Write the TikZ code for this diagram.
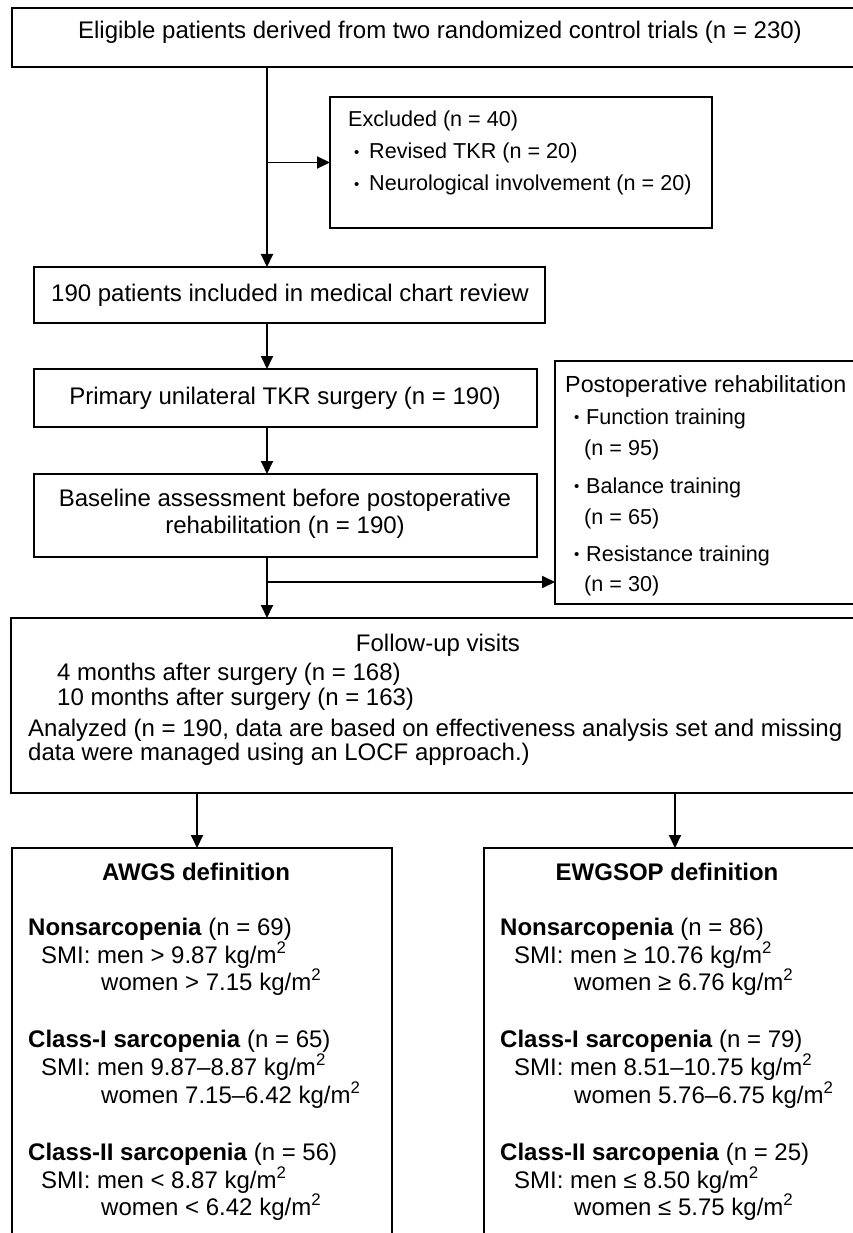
\documentclass[tikz,border=0pt]{standalone}
\usepackage{fontspec}
\setmainfont{Liberation Sans}
\usetikzlibrary{arrows.meta}
\newcommand\myfs{\fontsize{24}{28}\selectfont}
\newcommand\mysm{\fontsize{21.6}{26}\selectfont}
\newcommand\sq{kg/m\textsuperscript{2}}
\newcommand\bul[1]{\makebox[#1][l]{\raisebox{1.5pt}{\fontsize{15}{15}\selectfont•}}}
\begin{document}
\begin{tikzpicture}[x=1pt,y=-1pt,
  box/.style={draw, line width=1.9pt, rectangle, inner sep=0pt, outer sep=0pt},
  arr/.style={line width=1.9pt, -{Triangle[length=13pt,width=12pt]}},
  lbl/.style={inner sep=0pt, anchor=base west, font=\myfs},
  slbl/.style={inner sep=0pt, anchor=base west, font=\mysm},
  clbl/.style={inner sep=0pt, anchor=base, font=\myfs}]
\useasboundingbox (0,0) rectangle (853,1233);
\fill[white] (0,0) rectangle (853,1233);
\begin{scope}
\clip (0,0) rectangle (853,1233);
% boxes
\node[box, minimum width=854pt, minimum height=59pt] (top) at (439,37.5) {};
\node[box, minimum width=382pt, minimum height=131pt] (excl) at (521,162.5) {};
\node[box, minimum width=511pt, minimum height=56pt] (b190) at (289.5,295) {};
\node[box, minimum width=503pt, minimum height=58pt] (prim) at (285.5,398) {};
\node[box, minimum width=503pt, minimum height=83pt] (base) at (285.5,515.5) {};
\node[box, minimum width=345pt, minimum height=243pt] (rehab) at (727.5,482.5) {};
\node[box, minimum width=855pt, minimum height=175pt] (fu) at (438.5,705.5) {};
\node[box, minimum width=380pt, minimum height=412pt] (awgs) at (202,1054) {};
\node[box, minimum width=382pt, minimum height=412pt] (ewg) at (675,1054) {};
\coordinate (spine) at (267,0);
\coordinate (rb) at (267,582);
\coordinate (ax) at (197,0);
% connectors
\draw[arr] (top.south -| spine) -- (b190.north -| spine);
\draw[arr] (spine |- excl.west) -- (excl.west);
\draw[arr] (b190.south -| spine) -- (prim.north -| spine);
\draw[arr] (prim.south -| spine) -- (base.north -| spine);
\draw[arr] (base.south -| spine) -- (fu.north -| spine);
\draw[arr] (rb) -- (rb -| rehab.west);
\draw[arr] (fu.south -| ax) -- (awgs.north -| ax);
\draw[arr] (fu.south -| ewg.north) -- (ewg.north);
% texts
\node[clbl] (t1) at (440,39) {Eligible patients derived from two randomized control trials (n = 230)};
\node[slbl] (e1) at (348,127) {Excluded (n = 40)};
\node[slbl] (e2) at (354,159) {\bul{15pt}Revised TKR (n = 20)};
\node[slbl] (e3) at (354,191) {\bul{15pt}Neurological involvement (n = 20)};
\node[clbl] (t2) at (290,301) {190 patients included in medical chart review};
\node[clbl] (t3) at (285,404) {Primary unilateral TKR surgery (n = 190)};
\node[clbl] (t4) at (285,506) {Baseline assessment before postoperative};
\node[clbl] (t5) at (285,533) {rehabilitation (n = 190)};
\node[lbl, font=\fontsize{23.3}{28}\selectfont] (r1) at (565,392) {Postoperative rehabilitation};
\node[slbl] (r2) at (574,424) {\bul{12pt}Function training};
\node[slbl] (r3) at (584,455) {(n = 95)};
\node[slbl] (r4) at (574,493) {\bul{12pt}Balance training};
\node[slbl] (r5) at (584,524) {(n = 65)};
\node[slbl] (r6) at (574,561) {\bul{12pt}Resistance training};
\node[slbl] (r7) at (584,591) {(n = 30)};
\node[clbl] (f1) at (438,651) {Follow-up visits};
\node[lbl] (f2) at (57,680) {4 months after surgery (n = 168)};
\node[lbl] (f3) at (57,705) {10 months after surgery (n = 163)};
\node[lbl] (f4) at (28,736) {Analyzed (n = 190, data are based on effectiveness analysis set and missing};
\node[lbl] (f5) at (28,760) {data were managed using an LOCF approach.)};
% AWGS
\node[clbl] (a0) at (196,880) {\bfseries AWGS definition};
\node[lbl] (a1) at (28,935) {\textbf{Nonsarcopenia} (n = 69)};
\node[lbl] (a2) at (41,963) {SMI: men > 9.87 \sq};
\node[lbl] (a3) at (101,990) {women > 7.15 \sq};
\node[lbl] (a4) at (28,1047) {\textbf{Class-I sarcopenia} (n = 65)};
\node[lbl] (a5) at (41,1075) {SMI: men 9.87–8.87 \sq};
\node[lbl] (a6) at (101,1103) {women 7.15–6.42 \sq};
\node[lbl] (a7) at (28,1160) {\textbf{Class-II sarcopenia} (n = 56)};
\node[lbl] (a8) at (41,1188) {SMI: men < 8.87 \sq};
\node[lbl] (a9) at (101,1215) {women < 6.42 \sq};
% EWGSOP
\node[clbl] (w0) at (667,880) {\bfseries EWGSOP definition};
\node[lbl] (w1) at (500,935) {\textbf{Nonsarcopenia} (n = 86)};
\node[lbl] (w2) at (514,963) {SMI: men ≥ 10.76 \sq};
\node[lbl] (w3) at (574,990) {women ≥ 6.76 \sq};
\node[lbl] (w4) at (500,1047) {\textbf{Class-I sarcopenia} (n = 79)};
\node[lbl] (w5) at (514,1075) {SMI: men 8.51–10.75 \sq};
\node[lbl] (w6) at (574,1103) {women 5.76–6.75 \sq};
\node[lbl] (w7) at (500,1160) {\textbf{Class-II sarcopenia} (n = 25)};
\node[lbl] (w8) at (514,1188) {SMI: men ≤ 8.50 \sq};
\node[lbl] (w9) at (574,1215) {women ≤ 5.75 \sq};
\end{scope}
\end{tikzpicture}
\end{document}
